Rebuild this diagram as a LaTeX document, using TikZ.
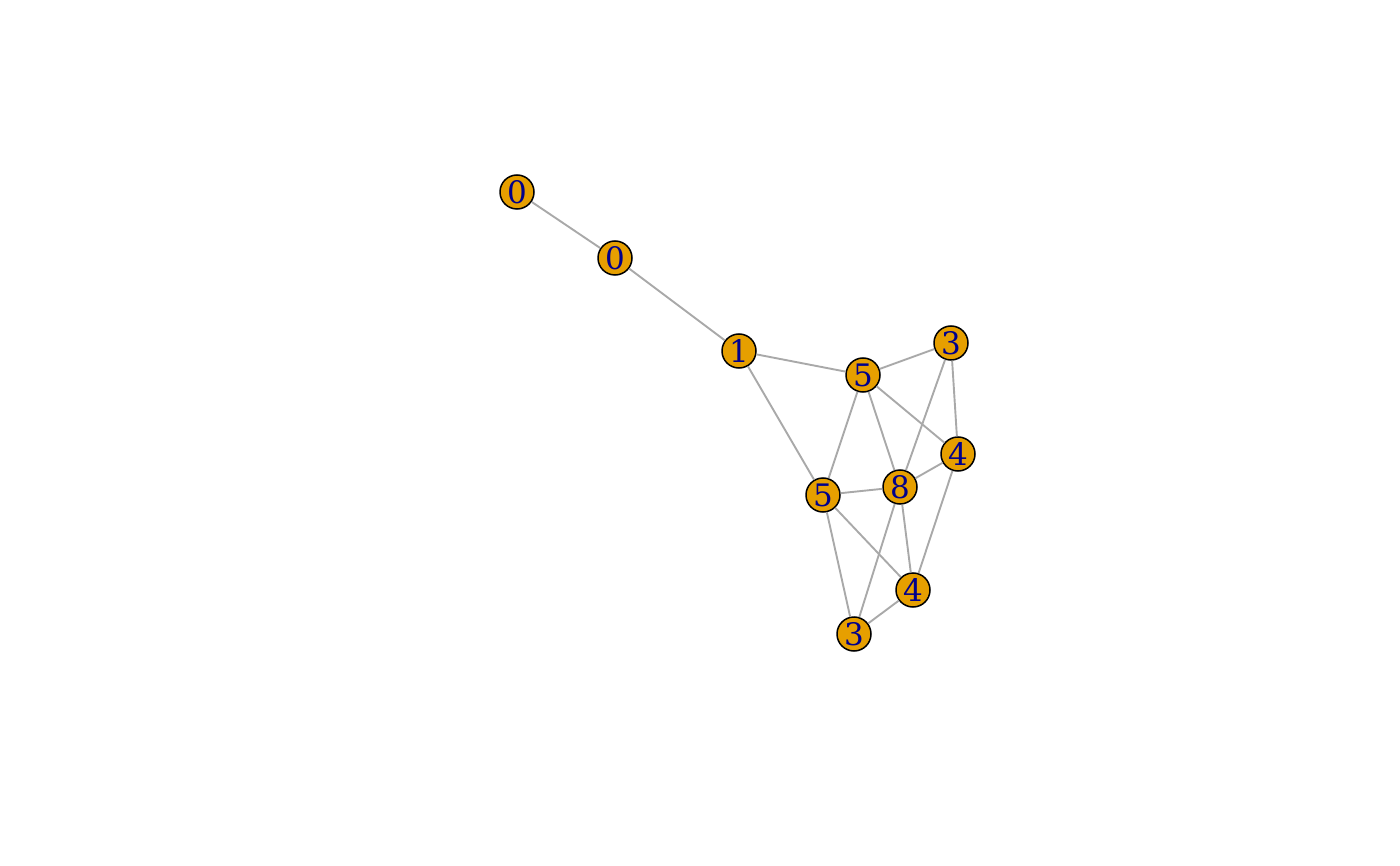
\documentclass[tikz,border=0pt]{standalone}
\usepackage{fontspec}
\setmainfont{DejaVu Serif}
\definecolor{vfill}{HTML}{E69F00}
\definecolor{vtext}{HTML}{00008B}
\definecolor{egray}{HTML}{A9A9A9}
\begin{document}
\begin{tikzpicture}[x=1pt,y=-1pt,
  vert/.style={circle,draw=black,line width=1.5pt,fill=vfill,minimum size=34pt,inner sep=0pt,
    text=vtext,font=\fontsize{31}{31}\selectfont},
  edge/.style={draw=egray,line width=1.9pt}]
\useasboundingbox (0,0) rectangle (1400,866);
\node[vert] (a) at (517,192) {0};
\node[vert] (b) at (615,258) {0};
\node[vert] (c) at (739,351) {1};
\node[vert] (d) at (863,375) {5};
\node[vert] (e) at (951,343) {3};
\node[vert] (f) at (958,454) {4};
\node[vert] (g) at (900,487) {8};
\node[vert] (h) at (823,495) {5};
\node[vert] (i) at (913,590) {4};
\node[vert] (j) at (854,634) {3};
\foreach \u/\v in {a/b,b/c,c/d,c/h,d/e,d/f,d/g,d/h,e/g,e/f,f/g,f/i,g/h,g/i,g/j,h/i,h/j,i/j}
  \draw[edge] (\u) -- (\v);
\end{tikzpicture}
\end{document}
